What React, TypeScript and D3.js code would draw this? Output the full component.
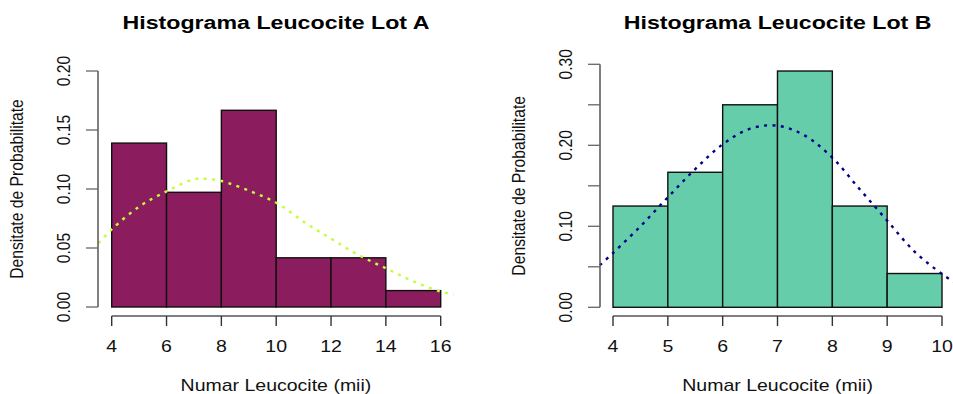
import React from "react";
import * as d3 from "d3";

// ---------- data ----------
const breaksA = [4, 6, 8, 10, 12, 14, 16];
const densityA = [0.1389, 0.0972, 0.1667, 0.0417, 0.0417, 0.0139];
const curveAx = [3.52, 4, 5, 6, 7, 7.5, 8, 9, 10, 11, 12, 13, 14, 15, 16, 16.48];
const curveAy = [0.054, 0.0658, 0.085, 0.098, 0.1082, 0.1085, 0.1068, 0.0986, 0.0884, 0.0723, 0.0579, 0.0441, 0.0328, 0.0218, 0.013, 0.0108];
const xTicksA = [4, 6, 8, 10, 12, 14, 16];
const yTicksA = [0, 0.05, 0.1, 0.15, 0.2];
const yLabelsA = ["0.00", "0.05", "0.10", "0.15", "0.20"];

const breaksB = [4, 5, 6, 7, 8, 9, 10];
const densityB = [0.125, 0.1667, 0.25, 0.2917, 0.125, 0.0417];
const curveBx = [3.76, 4, 4.5, 5, 5.5, 6, 6.5, 7, 7.5, 8, 8.5, 9, 9.5, 10, 10.24];
const curveBy = [0.052, 0.067, 0.1, 0.1358, 0.1707, 0.2012, 0.2205, 0.2242, 0.2119, 0.1847, 0.1457, 0.107, 0.0687, 0.0411, 0.03];
const xTicksB = [4, 5, 6, 7, 8, 9, 10];
const yTicksB = [0, 0.05, 0.1, 0.15, 0.2, 0.25, 0.3];
const yLabelsB = ["0.00", "", "0.10", "", "0.20", "", "0.30"];

const titleA = "Histograma Leucocite Lot A";
const titleB = "Histograma Leucocite Lot B";
const xLabel = "Numar Leucocite (mii)";
const yLabel = "Densitate de Probabilitate";

const FONT = "'Liberation Sans', Arial, Helvetica, sans-serif";
const SX = 1.22;

type PanelProps = {
  breaks: number[];
  density: number[];
  cx: number[];
  cy: number[];
  xTicks: number[];
  yTicks: number[];
  yLabels: string[];
  title: string;
  xDomain: [number, number];
  xRange: [number, number];
  yDomain: [number, number];
  yRange: [number, number];
  axisX: number;
  fill: string;
  lineColor: string;
  tickLabelX: number;
  yLabelX: number;
};

function Panel(p: PanelProps) {
  const x = d3.scaleLinear().domain(p.xDomain).range(p.xRange);
  const y = d3.scaleLinear().domain(p.yDomain).range(p.yRange);
  const pts: [number, number][] = p.cx.map((v, i) => [v, p.cy[i]]);
  const line = d3
    .line<[number, number]>()
    .x((d) => x(d[0]))
    .y((d) => y(d[1]))
    .curve(d3.curveCatmullRom);
  const xAxisY = 316;
  const tickLen = 12;
  const x0 = x(p.xTicks[0]);
  const x1 = x(p.xTicks[p.xTicks.length - 1]);
  const yTop = y(p.yTicks[p.yTicks.length - 1]);
  const yBot = y(p.yTicks[0]);
  const centerX = (p.axisX + x(p.xDomain[1] + (p.xDomain[1] - p.xDomain[0]) * 0.04)) / 2;
  const centerY = (yTop + yBot) / 2;
  return (
    <g>
      {p.density.map((d, i) => (
        <rect
          key={i}
          x={x(p.breaks[i])}
          y={y(d)}
          width={x(p.breaks[i + 1]) - x(p.breaks[i])}
          height={y(0) - y(d)}
          fill={p.fill}
          stroke="#111"
          strokeWidth={1.4}
        />
      ))}
      <path
        d={line(pts) || ""}
        fill="none"
        stroke={p.lineColor}
        strokeWidth={2.4}
        strokeDasharray="3 5.4"
      />
      {/* x axis */}
      <line x1={x0} x2={x1} y1={xAxisY} y2={xAxisY} stroke="#555" strokeWidth={1.3} />
      {p.xTicks.map((t) => (
        <g key={t}>
          <line x1={x(t)} x2={x(t)} y1={xAxisY} y2={xAxisY + 10} stroke="#333" strokeWidth={1.4} />
          <text
            transform={`translate(${x(t)},352) scale(${SX},1)`}
            textAnchor="middle"
            fontFamily={FONT}
            fontSize={16}
            fill="#111"
          >
            {t}
          </text>
        </g>
      ))}
      {/* y axis */}
      <line x1={p.axisX} x2={p.axisX} y1={yTop} y2={yBot} stroke="#555" strokeWidth={1.5} />
      {p.yTicks.map((t, i) => (
        <g key={t}>
          <line x1={p.axisX - tickLen} x2={p.axisX} y1={y(t)} y2={y(t)} stroke="#666" strokeWidth={1.3} />
          {p.yLabels[i] !== "" && (
            <text
              transform={`translate(${p.tickLabelX},${y(t)}) scale(${SX},1) rotate(-90)`}
              textAnchor="middle"
              fontFamily={FONT}
              fontSize={15.6}
              fill="#111"
            >
              {p.yLabels[i]}
            </text>
          )}
        </g>
      ))}
      <text
        transform={`translate(${p.yLabelX},${centerY}) scale(${SX},1) rotate(-90)`}
        textAnchor="middle"
        fontFamily={FONT}
        fontSize={15.7}
        fill="#111"
      >
        {yLabel}
      </text>
      <text
        transform={`translate(${centerX},391) scale(${SX},1)`}
        textAnchor="middle"
        fontFamily={FONT}
        fontSize={16}
        fill="#111"
      >
        {xLabel}
      </text>
      <text
        transform={`translate(${centerX},29) scale(${SX},1)`}
        textAnchor="middle"
        fontFamily={FONT}
        fontSize={19}
        fontWeight="bold"
        fill="#000"
      >
        {p.title}
      </text>
    </g>
  );
}

export default function App() {
  return (
    <svg
      width={953}
      height={394}
      style={{ position: "absolute", left: 0, top: 0, background: "#fff" }}
    >
      <rect x={0} y={0} width={953} height={394} fill="#fff" />
      <Panel
        breaks={breaksA}
        density={densityA}
        cx={curveAx}
        cy={curveAy}
        xTicks={xTicksA}
        yTicks={yTicksA}
        yLabels={yLabelsA}
        title={titleA}
        xDomain={[4, 16]}
        xRange={[111.7, 440.7]}
        yDomain={[0, 0.2]}
        yRange={[307, 71]}
        axisX={98}
        fill="#8B1C5E"
        lineColor="#C2FF3A"
        tickLabelX={70}
        yLabelX={23}
      />
      <Panel
        breaks={breaksB}
        density={densityB}
        cx={curveBx}
        cy={curveBy}
        xTicks={xTicksB}
        yTicks={yTicksB}
        yLabels={yLabelsB}
        title={titleB}
        xDomain={[4, 10]}
        xRange={[613, 942]}
        yDomain={[0, 0.3]}
        yRange={[307.3, 64.3]}
        axisX={600}
        fill="#66CDAA"
        lineColor="#00008B"
        tickLabelX={572}
        yLabelX={525}
      />
    </svg>
  );
}
